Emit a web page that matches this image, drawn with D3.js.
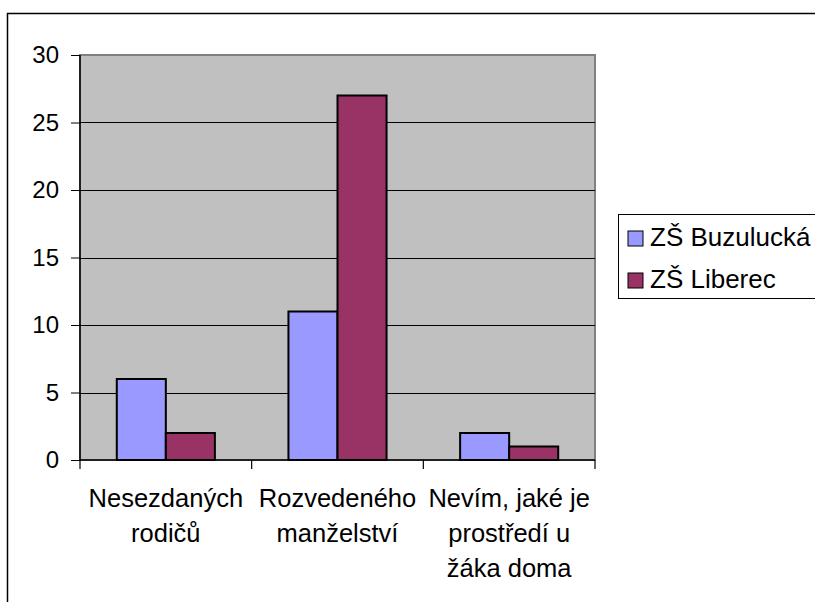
<!DOCTYPE html>
<html>
<head>
<meta charset="utf-8">
<title>Rodinné prostředí</title>
<script src="https://d3js.org/d3.v7.min.js"></script>
<style>
  body { margin: 0; background: #fff; }
  svg text { font-family: "Liberation Sans", Arial, sans-serif; fill: #000; }
</style>
</head>
<body>
<script>
// data
var categories = ["Nesezdaných rodičů", "Rozvedeného manželství", "Nevím, jaké je prostředí u žáka doma"];
var seriesNames = ["ZŠ Buzulucká", "ZŠ Liberec"];
var buzulucka = [6, 11, 2];
var liberec = [2, 27, 1];
var yTicks = [0, 5, 10, 15, 20, 25, 30];
var colors = ["#9999FF", "#993366"];

var W = 815, H = 602;
var plot = { left: 80, top: 55, right: 595, bottom: 460 };

var svg = d3.select("body").append("svg")
    .attr("width", W)
    .attr("height", H);

// outer chart border (runs off the right and bottom edge)
svg.append("path")
    .attr("d", "M7.5,602 V13.5 H815")
    .attr("fill", "none")
    .attr("stroke", "#000")
    .attr("stroke-width", 1.5);

var x = d3.scaleBand()
    .domain(categories)
    .range([plot.left, plot.right]);

var y = d3.scaleLinear()
    .domain([0, 30])
    .range([plot.bottom, plot.top]);

// gap width 150% like the original
var barW = x.bandwidth() / 3.5;

// gray plot area
svg.append("rect")
    .attr("x", plot.left)
    .attr("y", plot.top)
    .attr("width", plot.right - plot.left)
    .attr("height", plot.bottom - plot.top)
    .attr("fill", "#C0C0C0")
    .attr("stroke", "#808080")
    .attr("stroke-width", 2);

// gridlines
svg.append("g")
    .selectAll("line")
    .data(yTicks.filter(d => d > 0 && d < 30))
    .join("line")
    .attr("x1", plot.left)
    .attr("x2", plot.right)
    .attr("y1", d => Math.round(y(d)) + 0.5)
    .attr("y2", d => Math.round(y(d)) + 0.5)
    .attr("stroke", "#000")
    .attr("stroke-width", 1);

// bars
var series = [buzulucka, liberec];
series.forEach(function(vals, s) {
    svg.append("g")
        .selectAll("rect")
        .data(vals)
        .join("rect")
        .attr("x", (d, i) => x(categories[i]) + barW * (0.75 + s))
        .attr("y", d => y(d))
        .attr("width", barW)
        .attr("height", d => y(0) - y(d))
        .attr("fill", colors[s])
        .attr("stroke", "#000")
        .attr("stroke-width", 2);
});

// y axis
var yAxis = d3.axisLeft(y)
    .tickValues(yTicks)
    .tickSize(9)
    .tickPadding(12);
var gy = svg.append("g")
    .attr("transform", "translate(" + plot.left + ",0)")
    .call(yAxis);
gy.select(".domain").attr("stroke", "#000").attr("stroke-width", 1.5).attr("d", "M0," + plot.bottom + "V" + plot.top);
gy.selectAll(".tick line").attr("stroke", "#000");
gy.selectAll(".tick text")
    .attr("font-size", 24)
    .style("font-family", "'Liberation Sans', Arial, sans-serif");

// x axis line + category ticks at band edges
svg.append("line")
    .attr("x1", plot.left).attr("x2", plot.right)
    .attr("y1", plot.bottom).attr("y2", plot.bottom)
    .attr("stroke", "#000").attr("stroke-width", 1.5);

var edges = categories.map(c => x(c)).concat([plot.right]);
svg.append("g")
    .selectAll("line")
    .data(edges)
    .join("line")
    .attr("x1", d => d).attr("x2", d => d)
    .attr("y1", plot.bottom).attr("y2", plot.bottom + 9)
    .attr("stroke", "#000").attr("stroke-width", 1.2);

// category labels, wrapped to the band width
var labels = svg.append("g")
    .selectAll("text")
    .data(categories)
    .join("text")
    .attr("x", d => x(d) + x.bandwidth() / 2)
    .attr("y", 507)
    .attr("text-anchor", "middle")
    .attr("font-size", 25.5);

labels.each(function(d) {
    var t = d3.select(this);
    var words = d.split(" ");
    var line = [];
    var cx = x(d) + x.bandwidth() / 2;
    var tspan = t.append("tspan").attr("x", cx).attr("dy", 0);
    words.forEach(function(w) {
        line.push(w);
        tspan.text(line.join(" "));
        if (tspan.node().getComputedTextLength() > x.bandwidth() - 4 && line.length > 1) {
            line.pop();
            tspan.text(line.join(" "));
            line = [w];
            tspan = t.append("tspan").attr("x", cx).attr("dy", 35).text(w);
        }
    });
});

// legend
var legend = svg.append("g");
legend.append("rect")
    .attr("x", 618.5)
    .attr("y", 214.5)
    .attr("width", 220)
    .attr("height", 84)
    .attr("fill", "#fff")
    .attr("stroke", "#000")
    .attr("stroke-width", 1);

var items = legend.selectAll("g.item")
    .data(seriesNames)
    .join("g")
    .attr("class", "item")
    .attr("transform", (d, i) => "translate(628," + (231 + i * 42) + ")");

items.append("rect")
    .attr("width", 15)
    .attr("height", 15)
    .attr("fill", (d, i) => colors[i])
    .attr("stroke", "#000")
    .attr("stroke-width", 1);

items.append("text")
    .attr("x", 22)
    .attr("y", 15)
    .attr("font-size", 26)
    .text(d => d);
</script>
</body>
</html>
